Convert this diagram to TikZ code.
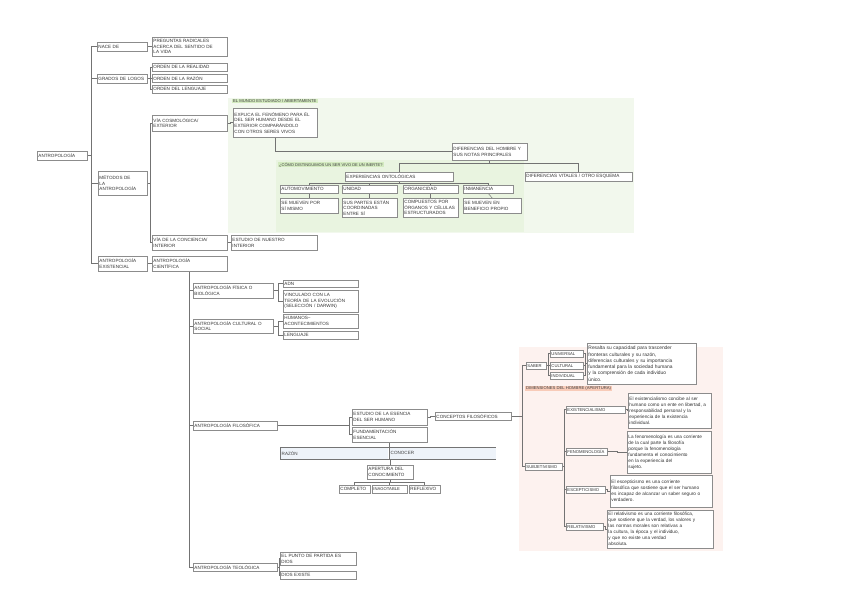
\documentclass[tikz,border=0pt]{standalone}
\usepackage{fontspec}
\setmainfont{Liberation Sans}
\usetikzlibrary{shadows,calc}
\pgfdeclarelayer{bg}
\pgfsetlayers{bg,main}
\newcommand\fsA{\fontsize{4.6}{5.6}\selectfont}
\newcommand\fsL{\fontsize{4.2}{5.1}\selectfont}
\newcommand\fsP{\fontsize{4.7}{6.0}\selectfont}
\newcommand\fsQ{\fontsize{4.9}{6.3}\selectfont}
\definecolor{gbg}{HTML}{F2F8ED}
\definecolor{gbg2}{HTML}{E9F4E0}
\definecolor{glab}{HTML}{D3EABF}
\definecolor{pbg}{HTML}{FDF2EF}
\definecolor{plab}{HTML}{F8CBB8}
\definecolor{bbg}{HTML}{EEF3F9}
\tikzset{
 bx/.style={draw=black!45, line width=0.35bp, fill=white, anchor=north west, align=left,
   inner xsep=1.3bp, inner ysep=0.6bp, font=\fsA, text=black!80,
   drop shadow={shadow xshift=0.9bp, shadow yshift=-0.9bp, fill=black!70, opacity=1}},
 para/.style={font=\fsP},
 ln/.style={draw=black!55, line width=0.45bp},
 lab/.style={anchor=north west, inner xsep=1bp, inner ysep=0.5bp, font=\fsL, text=black!75},
}
\newcommand\bxn[7][]{%
 \pgfmathsetmacro\myw{#5-#3}\pgfmathsetmacro\myh{#6-#4}\pgfmathsetmacro\mytw{#5-#3-2.6}%
 \node[bx,minimum width=\myw bp,minimum height=\myh bp,text width=\mytw bp,#1] (#2) at (#3,#4) {#7};}
\begin{document}
\begin{tikzpicture}[x=1bp,y=-1bp]
\useasboundingbox (0,0) rectangle (848,599);
\begin{pgfonlayer}{bg}
\fill[white] (0,0) rectangle (848,599);
\fill[gbg] (228,98) rectangle (634,233);
\fill[gbg2] (276,160) rectangle (524,232);
\fill[pbg] (519,347) rectangle (723,551);
\end{pgfonlayer}

% top part
\bxn{root}{37}{151}{87}{160}{ANTROPOLOGÍA}
\bxn{nace}{97}{42}{147}{51}{NACE DE}
\bxn{preg}{152}{37}{227}{56}{PREGUNTAS RADICALES\\ACERCA DEL SENTIDO DE\\LA VIDA}
\bxn{grad}{97}{74}{147}{83}{GRADOS DE LOGOS}
\bxn{oa}{152}{63}{227}{71}{ORDEN DE LA REALIDAD}
\bxn{ob}{152}{74}{227}{82}{ORDEN DE LA RAZÓN}
\bxn{oc}{152}{85}{227}{93}{ORDEN DEL LENGUAJE}
\bxn{met}{98}{171}{147}{195}{MÉTODOS DE\\LA\\ANTROPOLOGÍA}
\bxn{cos}{152}{115}{227}{131}{VÍA COSMOLÓGICA/\\EXTERIOR}
\bxn{conc}{152}{235}{227}{250}{VÍA DE LA CONCIENCIA/\\INTERIOR}
\bxn{estin}{231}{235}{317}{250}{ESTUDIO DE NUESTRO\\INTERIOR}
\bxn{exis}{98}{256}{147}{271}{ANTROPOLOGÍA\\EXISTENCIAL}
\bxn{cien}{152}{256}{227}{271}{ANTROPOLOGÍA\\CIENTÍFICA}

% green area
\node[lab,fill=glab] (la1) at (232,99) {EL MUNDO ESTUDIADO / ABIERTAMENTE};
\bxn{expl}{233}{108}{317}{137}{EXPLICA EL FENÓMENO PARA ÉL\\DEL SER HUMANO DESDE EL\\EXTERIOR COMPARÁNDOLO\\CON OTROS SERES VIVOS}
\bxn{dif}{452}{143}{527}{160}{DIFERENCIAS DEL HOMBRE Y\\SUS NOTAS PRINCIPALES}
\bxn{vit}{525}{172}{632}{181}{DIFERENCIAS VITALES / OTRO ESQUEMA}
\node[lab,fill=glab,font=\fontsize{4}{5}\selectfont] (la2) at (278,162) {¿CÓMO DISTINGUIMOS UN SER VIVO DE UN INERTE?};
\bxn{exp}{345}{172}{453}{181}{EXPERIENCIAS ONTOLÓGICAS}
\bxn{aut}{280}{185}{338}{193}{AUTOMOVIMIENTO}
\bxn{uni}{342}{185}{397}{193}{UNIDAD}
\bxn{org}{403}{185}{458}{193}{ORGANICIDAD}
\bxn{inm}{463}{185}{513}{193}{INMANENCIA}
\bxn{da}{280}{198}{338}{213}{SE MUEVEN POR\\SÍ MISMO}
\bxn{db}{342}{198}{397}{217}{SUS PARTES ESTÁN\\COORDINADAS\\ENTRE SÍ}
\bxn{dc}{403}{198}{458}{217}{COMPUESTOS POR\\ÓRGANOS Y CÉLULAS\\ESTRUCTURADOS}
\bxn{dd}{463}{198}{521}{213}{SE MUEVEN EN\\BENEFICIO PROPIO}

% bottom part
\bxn{fis}{193}{283}{273}{298}{ANTROPOLOGÍA FÍSICA O\\BIOLÓGICA}
\bxn{adn}{283}{280}{358}{287}{ADN}
\bxn{vin}{283}{290}{358}{312}{VINCULADO CON LA\\TEORÍA DE LA EVOLUCIÓN\\(SELECCIÓN / DARWIN)}
\bxn{cul}{193}{319}{273}{333}{ANTROPOLOGÍA CULTURAL O\\SOCIAL}
\bxn{hum}{283}{314}{358}{328}{HUMANOS–\\ACONTECIMIENTOS}
\bxn{len}{283}{331}{358}{339}{LENGUAJE}
\bxn{fil}{193}{421}{277}{430}{ANTROPOLOGÍA FILOSÓFICA}
\bxn{est}{352}{409}{427}{425}{ESTUDIO DE LA ESENCIA\\DEL SER HUMANO}
\bxn{fun}{352}{427}{427}{442}{FUNDAMENTACIÓN\\ESENCIAL}
\bxn{cf}{435}{412}{511}{420}{CONCEPTOS FILOSÓFICOS}
\node[lab,font=\fsA,fill=bbg,minimum height=12bp,text width=105bp,align=left,inner xsep=1.5bp] (raz) at (280,447) {RAZÓN};
\node[lab,font=\fsA,fill=bbg,minimum height=12bp,text width=104bp,align=left,inner xsep=1.5bp] (cono) at (389,447) {CONOCER};
\draw[ln] (raz.north west) -- (cono.north east);
\draw[ln] (raz.south west) -- (cono.south east);
\draw[ln] (raz.north west) -- (raz.south west);
\draw[ln] (cono.north west) -- (cono.south west);
\bxn{ape}{367}{465}{413}{479}{APERTURA DEL\\CONOCIMIENTO}
\bxn{com}{339}{485}{370}{493}{COMPLETO}
\bxn[font=\fsL]{ina}{372}{485}{407}{493}{INAGOTABLE}
\bxn{ref}{409}{485}{440}{493}{REFLEXIVO}
\bxn{teo}{193}{563}{277}{571}{ANTROPOLOGÍA TEOLÓGICA}
\bxn{pun}{280}{552}{356}{565}{EL PUNTO DE PARTIDA ES\\DIOS}
\bxn{dio}{280}{571}{356}{579}{DIOS EXISTE}

% pink area
\bxn[font=\fsL]{sab}{526}{362}{546}{369}{SABER}
\bxn[font=\fsL]{uv}{550}{350}{583}{357}{UNIVERSAL}
\bxn[font=\fsL]{cu}{550}{362}{583}{369}{CULTURAL}
\bxn[font=\fsL]{iv}{550}{372}{583}{379}{INDIVIDUAL}
\bxn[font=\fsQ]{p1}{587}{343}{696}{384}{Resalta su capacidad para trascender\\fronteras culturales y su razón,\\diferencias culturales y su importancia\\fundamental para la sociedad humana\\y la comprensión de cada individuo\\único.}
\node[lab,fill=plab] (la3) at (525,386) {DIMENSIONES DEL HOMBRE (APERTURA)};
\bxn[font=\fsL]{sub}{525}{463}{562}{470}{SUBJETIVISMO}
\bxn[font=\fsL]{exi}{566}{406}{625}{413}{EXISTENCIALISMO}
\bxn[font=\fsL]{fen}{566}{448}{607}{455}{FENOMENOLOGÍA}
\bxn[font=\fsL]{esc}{566}{486}{605}{493}{ESCEPTICISMO}
\bxn[font=\fsL]{rel}{566}{523}{603}{530}{RELATIVISMO}
\bxn[para]{pe}{628}{393}{711}{428}{El existencialismo concibe al ser\\humano como un ente en libertad, a\\responsabilidad personal y la\\experiencia de la existencia\\individual.}
\bxn[para]{pf}{627}{431}{711}{473}{La fenomenología es una corriente\\de la cual parte la filosofía\\porque la fenomenología\\fundamenta el conocimiento\\en la experiencia del\\sujeto.}
\bxn[para]{ps}{610}{475}{712}{507}{El escepticismo es una corriente\\filosófica que sostiene que el ser humano\\es incapaz de alcanzar un saber seguro o\\verdadero.}
\bxn[para]{pr}{607}{510}{713}{548}{El relativismo es una corriente filosófica,\\que sostiene que la verdad, los valores y\\las normas morales son relativas a\\la cultura, la época y el individuo,\\y que no existe una verdad\\absoluta.}

% connectors
\begin{pgfonlayer}{bg}
\draw[ln] (root.east) -- ++(4,0) coordinate (t1);
\foreach \n in {nace,grad,met,exis} \draw[ln] (t1) |- (\n.west);
\draw[ln] (nace.east) -- ++(2.5,0) |- (preg.west);
\foreach \n in {oa,ob,oc} \draw[ln] (grad.east) -- ++(2.5,0) |- (\n.west);
\foreach \n in {cos,conc} \draw[ln] (met.east) -- ++(2.5,0) |- (\n.west);
\draw[ln] (exis.east) -- (cien.west);
\draw[ln] (cos.east) -- ++(3,0) |- (expl.west);
\draw[ln] (conc.east) -- (estin.west);
\draw[ln] (expl.south) |- (dif.west);
\draw[ln] (dif.south) -- ++(0,3) coordinate (t2);
\draw[ln] (t2) -| (exp.north);
\draw[ln] (t2) -| (vit.north);
\draw[ln] (exp.south) -- ++(0,2) coordinate (t3);
\foreach \n in {aut,uni,org,inm} \draw[ln] (t3) -| (\n.north);
\draw[ln] (aut.south) -- (da.north);
\draw[ln] (uni.south) -- (db.north);
\draw[ln] (org.south) -- (dc.north);
\draw[ln] (inm.south) -- (dd.north);
\foreach \n in {fis,cul,fil,teo} \draw[ln] (cien.south) |- (\n.west);
\foreach \n in {adn,vin} \draw[ln] (fis.east) -- ++(5,0) |- (\n.west);
\foreach \n in {hum,len} \draw[ln] (cul.east) -- ++(5,0) |- (\n.west);
\draw[ln] (fil.east) -- ++(72,0) coordinate (fb) |- (est.west);
\draw[ln] (fb) |- (fun.west);
\draw[ln] (est.east) -- ++(3,0) |- (cf.west);
\draw[ln] (cf.east) -- ++(11,0) coordinate (pb) |- (sab.west);
\draw[ln] (pb) |- (sub.west);
\draw[ln] (fun.south) -- (fun.south |- raz.north);
\draw[ln] (ape.north |- raz.south) -- (ape.north);
\draw[ln] (ape.south) -- ++(0,3) coordinate (t4);
\foreach \n in {com,ina,ref} \draw[ln] (t4) -| (\n.north);
\foreach \n in {pun,dio} \draw[ln] (teo.east) -- ++(2,0) |- (\n.west);
\foreach \n in {uv,cu,iv} \draw[ln] (sab.east) -- ++(2,0) |- (\n.west);
\foreach \n in {uv,cu,iv} \draw[ln] (\n.east) -- ++(2,0) |- (p1.west);
\foreach \n in {exi,fen,esc,rel} \draw[ln] (sub.east) -- ++(2,0) |- (\n.west);
\draw[ln] (exi.east) -- ++(1.5,0) |- (pe.west);
\draw[ln] (fen.east) -- ++(10,0) |- (pf.west);
\draw[ln] (esc.east) -- ++(2,0) |- (ps.west);
\draw[ln] (rel.east) -- ++(2,0) |- (pr.west);
\end{pgfonlayer}
\end{tikzpicture}
\end{document}
